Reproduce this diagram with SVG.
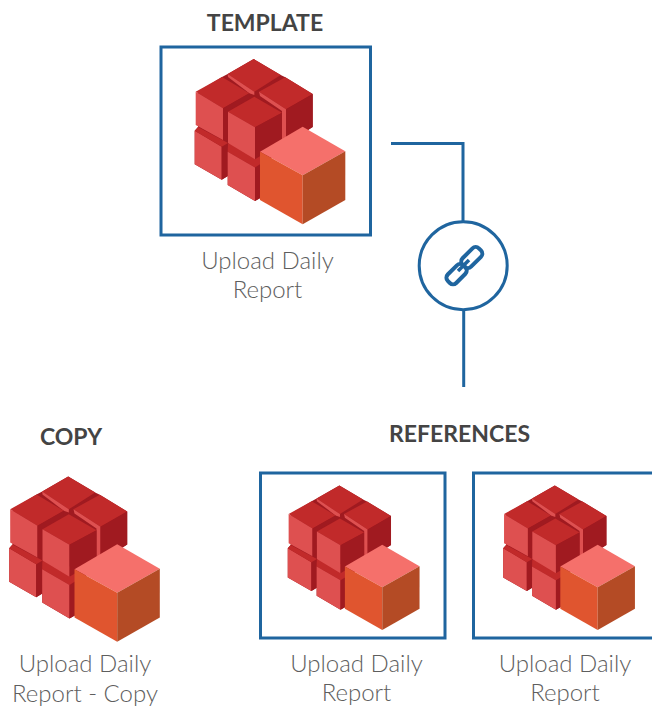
<svg xmlns="http://www.w3.org/2000/svg" width="652" height="706" viewBox="0 0 652 706">
<style>
.frame{fill:#fff;stroke:#1f659f;stroke-width:3}
.wire{fill:none;stroke:#1f659f;stroke-width:3}
.head{font-family:"Lato","Liberation Sans",sans-serif;font-weight:700;font-size:23px;fill:#444;text-anchor:middle}
.lbl{font-family:"Lato","Liberation Sans",sans-serif;font-weight:300;font-size:24px;fill:#5e5e5e;text-anchor:middle}
.t{fill:#c12a2a}.l{fill:#de5050}.r{fill:#a01a20}.m{fill:#c12a2a}
</style>
<defs>
<g id="cubes">
<path fill="#a01a20" d="M227.700 74L253.700 59L280.700 75L285.300 77.300L312.700 94V127L282 145L262 170V197L255 201L227.700 185V176L221.700 179.700L194.700 164.300V130.700L198 127V91.700L222 77Z"/>
<path class="t" d="M253.700 59L280.700 75L254.300 91.700L227.700 74Z"/>
<path class="l" d="M227.700 74L254.300 91.700V95L249.300 93.300L228 77Z"/>
<path class="l" d="M194.700 130.700L221.700 146.700V179.700L194.700 164.300Z"/>
<path class="m" d="M198 127L228 143V152L221.700 146.700L194.700 130.700Z"/>
<path class="r" d="M221.700 146.700L228 143V176L221.700 179.700Z"/>
<path class="m" d="M228 144L240 136L262 155L262 170L255 167.500L227.700 151.700Z"/>
<path class="l" d="M227.700 151.700L255 167.500V201L227.700 185Z"/>
<path class="r" d="M255 167.500L262 163V197L255 201Z"/>
<path class="t" d="M285.300 77.300L312.700 94L286 109.300L259 91.700Z"/>
<path class="l" d="M259 91.700L286 109.300V145L282 143V111L260 96Z"/>
<path class="r" d="M286 109.300L312.700 94V127L286 145Z"/>
<path class="t" d="M222 77L249.300 93.300L223 108.300L195.700 91.700Z"/>
<path class="l" d="M195.700 91.700L223 108.300V140L195.700 125Z"/>
<path class="r" d="M223 108.300L249.300 93.300V99L228 111.700V136L223 140Z"/>
<path class="t" d="M254.300 96.700L282 112.700L255 127.300L228 111.700Z"/>
<path class="l" d="M228 111.700L255 127.300V159.300L228 143Z"/>
<path class="r" d="M255 127.300L282 112.700V143L255 159.300Z"/>
<path fill="#f5706b" d="M302.700 126.700L345.300 151.300L302.700 175.300L260 151.700Z"/>
<path fill="#e0552f" d="M260 151.700L302.700 175.300V224.300L260 200Z"/>
<path fill="#b44b25" d="M302.700 175.300L345.300 151.300V200L302.700 224.300Z"/>
</g>
</defs>
<g id="connectors">
<path class="wire" d="M391 143.500H463V221"/>
<path class="wire" d="M463.700 311V387"/>
</g>
<g id="template">
<rect class="frame" x="161" y="47" width="209.500" height="188"/>
<use href="#cubes"/>
<text class="head" x="265" y="31">TEMPLATE</text>
<text class="lbl" x="267.500" y="269">Upload Daily</text>
<text class="lbl" x="267.500" y="298">Report</text>
</g>
<g id="link">
<circle cx="463.200" cy="265.700" r="44" fill="#fff" stroke="#1f659f" stroke-width="3"/>
<g fill="none" stroke="#1f659f" stroke-width="4" transform="rotate(-45 464 266)">
<rect x="442" y="260.500" width="22" height="12" rx="4.500"/>
<rect x="464" y="259.500" width="23" height="12" rx="4.500"/>
</g>
<path d="M458 271L469 260" stroke="#1f659f" stroke-width="3.500" fill="none"/>
</g>
<g id="copy">
<use href="#cubes" transform="translate(-185.500 417.500)"/>
<text class="head" x="71" y="445">COPY</text>
<text class="lbl" x="85" y="672">Upload Daily</text>
<text class="lbl" x="85" y="702">Report - Copy</text>
</g>
<g id="references-title">
<text class="head" x="459.500" y="442">REFERENCES</text>
</g>
<g id="reference-1">
<rect class="frame" x="260.500" y="473" width="184.500" height="165"/>
<use href="#cubes" transform="translate(117.400 433.800) scale(.875)"/>
<text class="lbl" x="356.500" y="672">Upload Daily</text>
<text class="lbl" x="356.500" y="701">Report</text>
</g>
<g id="reference-2">
<rect class="frame" x="473.500" y="473" width="190" height="165"/>
<use href="#cubes" transform="translate(332.800 433.800) scale(.875)"/>
<text class="lbl" x="565" y="672">Upload Daily</text>
<text class="lbl" x="565" y="701">Report</text>
</g>
</svg>
